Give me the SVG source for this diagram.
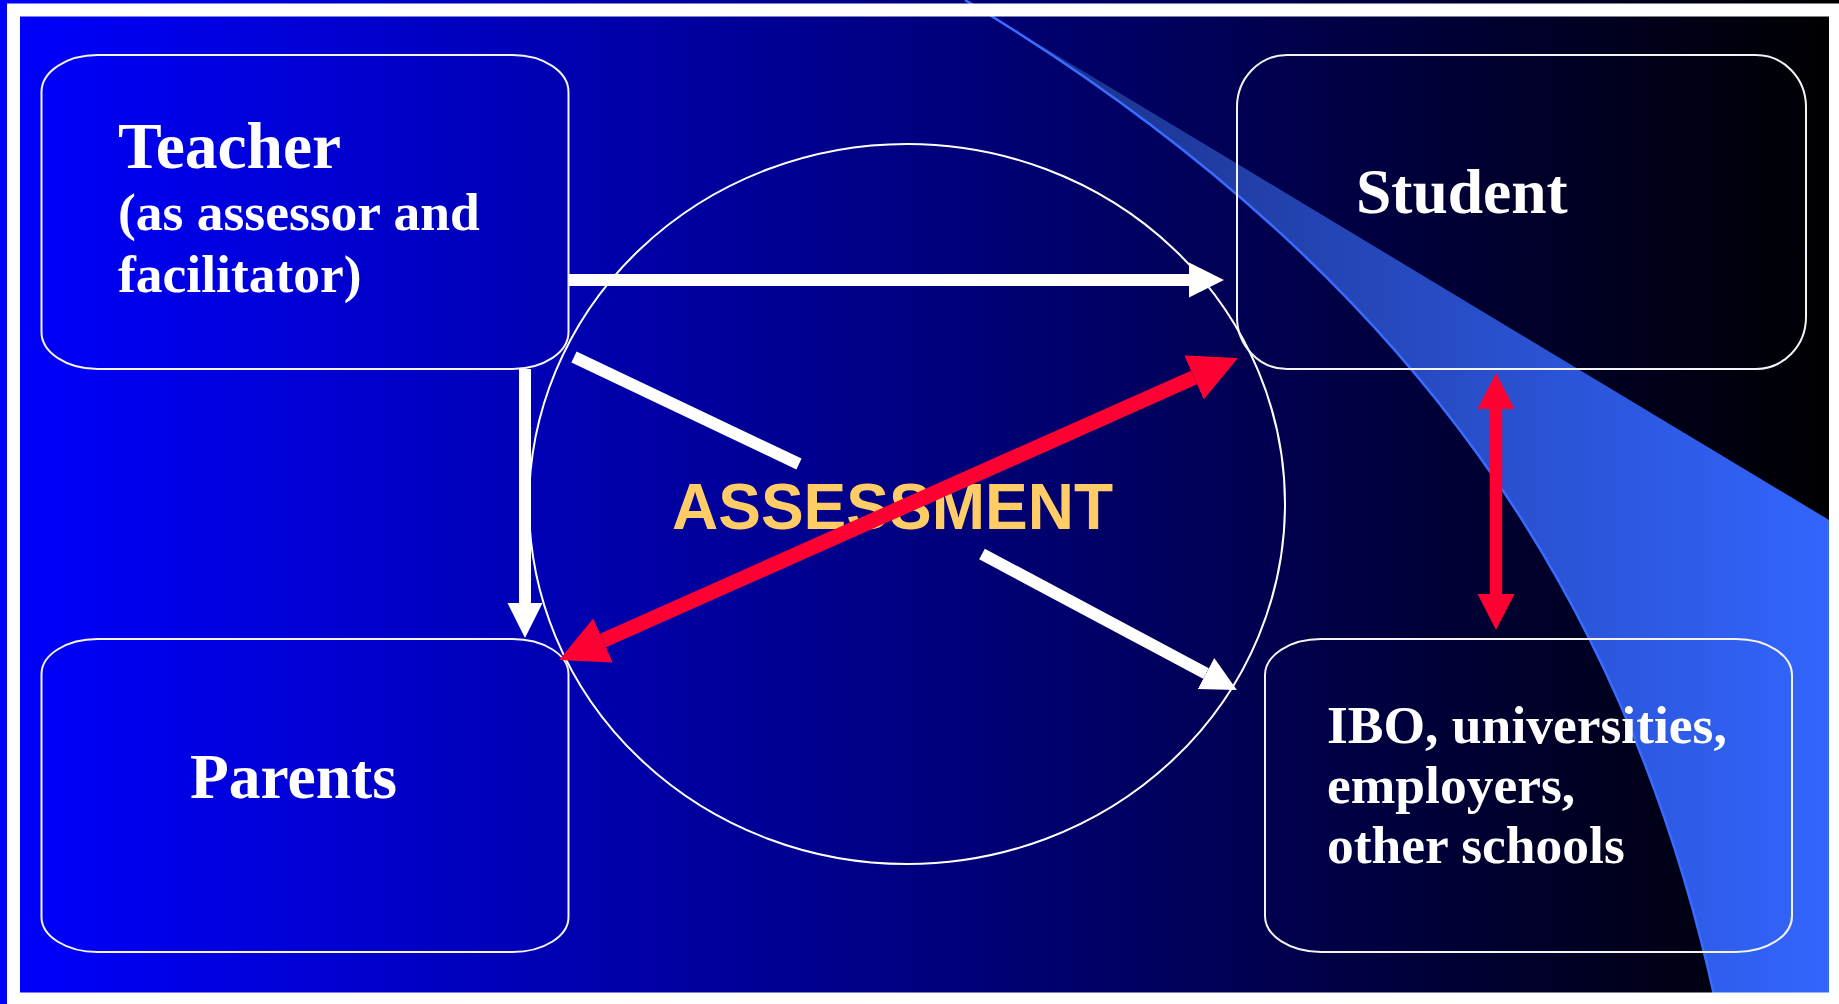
<svg xmlns="http://www.w3.org/2000/svg" width="1839" height="1004" viewBox="0 0 1839 1004">
  <defs>
    <linearGradient id="bg" x1="0" y1="0" x2="1839" y2="0" gradientUnits="userSpaceOnUse">
      <stop offset="0" stop-color="#0000FF"/>
      <stop offset="1" stop-color="#000000"/>
    </linearGradient>
    <linearGradient id="swoosh" x1="1000" y1="0" x2="1839" y2="0" gradientUnits="userSpaceOnUse">
      <stop offset="0" stop-color="#1a2f84"/>
      <stop offset="1" stop-color="#3366FF"/>
    </linearGradient>
    <marker id="headW" markerUnits="userSpaceOnUse" markerWidth="40" markerHeight="40" viewBox="0 -20 40 40" refX="0" refY="0" orient="auto-start-reverse">
      <path d="M0,-17.5 L35,0 L0,17.5 Z" fill="#FFFFFF"/>
    </marker>
    <marker id="headRD" markerUnits="userSpaceOnUse" markerWidth="52" markerHeight="52" viewBox="0 -26 52 52" refX="0" refY="0" orient="auto-start-reverse">
      <path d="M0,-24 L48,0 L0,24 Z" fill="#FF0033"/>
    </marker>
    <marker id="headRV" markerUnits="userSpaceOnUse" markerWidth="40" markerHeight="40" viewBox="0 -20 40 40" refX="0" refY="0" orient="auto-start-reverse">
      <path d="M0,-18.5 L36,0 L0,18.5 Z" fill="#FF0033"/>
    </marker>
    <style>
      .box { fill: none; stroke: #F4F4F4; stroke-width: 2; }
      .lbl { font-family: "Liberation Serif", "Times New Roman", serif; font-weight: bold; fill: #FFFFFF; }
      .big { font-size: 63.5px; }
      .small { font-size: 53.5px; }
      .white { stroke: #FFFFFF; stroke-width: 12; fill: none; stroke-linecap: butt; }
      .red { stroke: #FF0033; fill: none; stroke-linecap: butt; }
    </style>
  </defs>

  <!-- background -->
  <rect x="0" y="0" width="1839" height="1004" fill="url(#bg)"/>
  <path d="M965,0 L1839,526 L1839,1004 L1716,1004 C1630,604 1415,270 965,0 Z" fill="url(#swoosh)"/>
  <path d="M965,0 C1415,270 1630,604 1716,1004" fill="none" stroke="#3A6BFF" stroke-width="2.5"/>

  <!-- central ellipse -->
  <ellipse id="assessment-circle" cx="907" cy="504" rx="378" ry="360" fill="none" stroke="#FFFFFF" stroke-width="2"/>

  <g id="teacher">
    <rect class="box" x="41.5" y="55" width="527" height="314" rx="56" ry="37"/>
    <text class="lbl" x="118" y="168" font-size="65.5">Teacher</text>
    <text class="lbl small" x="118" y="230">(as assessor and</text>
    <text class="lbl small" x="118" y="292">facilitator)</text>
  </g>

  <g id="student">
    <rect class="box" x="1237" y="55" width="569" height="314" rx="50" ry="52"/>
    <text class="lbl big" x="1356" y="213">Student</text>
  </g>

  <g id="parents">
    <rect class="box" x="41.5" y="639" width="527" height="313" rx="56" ry="35"/>
    <text class="lbl big" x="190" y="798">Parents</text>
  </g>

  <g id="ibo">
    <rect class="box" x="1265" y="639" width="527" height="313" rx="56" ry="36"/>
    <text class="lbl small" x="1327" y="743">IBO, universities,</text>
    <text class="lbl small" x="1327" y="803">employers,</text>
    <text class="lbl small" x="1327" y="863">other schools</text>
  </g>

  <g id="assessment">
    <text x="672" y="529" font-family="'Liberation Sans', Arial, sans-serif" font-weight="bold" font-size="64" fill="#FFCC66">ASSESSMENT</text>
  </g>

  <g id="connectors">
    <line class="white" x1="569" y1="280" x2="1189" y2="280" marker-end="url(#headW)"/>
    <line class="white" x1="525" y1="369" x2="525" y2="603" marker-end="url(#headW)"/>
    <line class="white" x1="574" y1="357" x2="799" y2="464"/>
    <line class="white" x1="982" y1="554" x2="1206" y2="673.5" marker-end="url(#headW)"/>
    <line class="red" stroke-width="15" x1="603" y1="640.5" x2="1194" y2="377.5" marker-start="url(#headRD)" marker-end="url(#headRD)"/>
    <line class="red" stroke-width="12.5" x1="1496" y1="409" x2="1496" y2="594" marker-start="url(#headRV)" marker-end="url(#headRV)"/>
  </g>

  <!-- slide frame -->
  <rect x="13.5" y="10" width="1822" height="989" fill="none" stroke="#FFFFFF" stroke-width="13"/>
</svg>
